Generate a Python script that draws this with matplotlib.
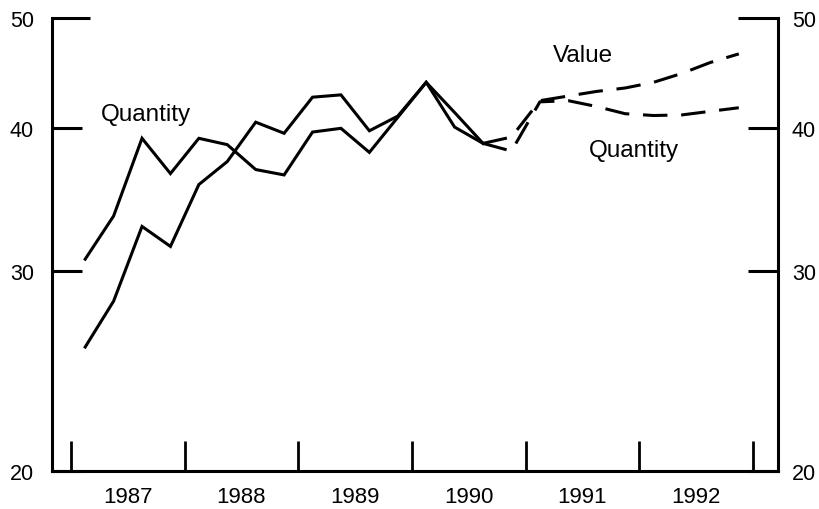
import matplotlib.pyplot as plt
from matplotlib.ticker import FixedLocator, NullLocator, FixedFormatter

# quarterly series (log scale)
hist_quarters = ["1987Q1", "1987Q2", "1987Q3", "1987Q4",
                 "1988Q1", "1988Q2", "1988Q3", "1988Q4",
                 "1989Q1", "1989Q2", "1989Q3", "1989Q4",
                 "1990Q1", "1990Q2", "1990Q3"]
hist_quantity = [30.7, 33.5, 39.2, 36.5,
                 39.2, 38.7, 36.8, 36.4,
                 39.7, 40.0, 38.1, 40.9,
                 43.9, 40.1, 38.8]
hist_value = [25.7, 28.2, 32.8, 31.5,
              35.7, 37.4, 40.5, 39.6,
              42.6, 42.8, 39.8, 41.0,
              43.9, 41.3, 38.8]

fc_quarters = ["1990Q3", "1990Q4",
               "1991Q1", "1991Q2", "1991Q3", "1991Q4",
               "1992Q1", "1992Q2", "1992Q3", "1992Q4"]
fc_quantity = [38.8, 38.2, 42.2, 42.3, 41.8, 41.2, 41.05, 41.1, 41.4, 41.7]
fc_value = [38.8, 39.3, 42.3, 42.7, 43.1, 43.4, 43.9, 44.7, 45.7, 46.5]

years = [1987, 1988, 1989, 1990, 1991, 1992]
y_ticks = [20, 30, 40, 50]


def qpos(label):
    """Centre of a quarter on a fractional-year axis."""
    year, q = label.split("Q")
    return int(year) + (int(q) - 0.5) / 4.0


plt.rcParams["font.family"] = ["Liberation Sans", "DejaVu Sans"]

fig = plt.figure(figsize=(8.19, 5.10), dpi=100)
ax = fig.add_axes([52 / 819, 38 / 510, 726 / 819, 453 / 510])

lw = 2.2
hx = [qpos(q) for q in hist_quarters]
fx = [qpos(q) for q in fc_quarters]
ax.plot(hx, hist_quantity, color="black", lw=lw, solid_joinstyle="miter")
ax.plot(hx, hist_value, color="black", lw=lw, solid_joinstyle="miter")
for vals in (fc_quantity, fc_value):
    ln, = ax.plot(fx, vals, color="black", lw=lw, dashes=(8, 4.5))

ax.set_yscale("log")
ax.set_ylim(20, 50)
ax.set_xlim(1986.833, 1993.22)

# y axis, both sides
ax.yaxis.set_major_locator(FixedLocator(y_ticks))
ax.yaxis.set_major_formatter(FixedFormatter([str(v) for v in y_ticks]))
ax.yaxis.set_minor_locator(NullLocator())

ax2 = ax.twinx()
ax2.set_yscale("log")
ax2.set_ylim(20, 50)
ax2.yaxis.set_major_locator(FixedLocator(y_ticks))
ax2.yaxis.set_major_formatter(FixedFormatter([str(v) for v in y_ticks]))
ax2.yaxis.set_minor_locator(NullLocator())

for a in (ax, ax2):
    for s in a.spines.values():
        s.set_visible(False)
        s.set_linewidth(lw)
ax.spines["left"].set_visible(True)
ax.spines["bottom"].set_visible(True)
ax2.spines["right"].set_visible(True)

ax.tick_params(axis="y", which="major", direction="in", length=21.6, width=lw,
               pad=13, labelsize=15.5)
ax2.tick_params(axis="y", which="major", direction="in", length=21.6, width=lw,
                pad=10, labelsize=15.5)
ax.yaxis.get_major_ticks()[-1].tick1line.set_markersize(27.4)
ax2.yaxis.get_major_ticks()[-1].tick2line.set_markersize(28.8)

# x axis: year boundaries as inward ticks, labels centred in each year
ax.xaxis.set_major_locator(FixedLocator(years + [1993]))
ax.xaxis.set_major_formatter(FixedFormatter([""] * (len(years) + 1)))
ax.xaxis.set_minor_locator(FixedLocator([y + 0.5 for y in years]))
ax.xaxis.set_minor_formatter(FixedFormatter([str(y) for y in years]))
ax.tick_params(axis="x", which="major", direction="in", length=21.6, width=2.0)
ax.tick_params(axis="x", which="minor", length=0, pad=11, labelsize=16)

ax.text(1987.66, 40.7, "Quantity", fontsize=17.5, ha="center", va="baseline")
ax.text(1991.50, 45.8, "Value", fontsize=17.5, ha="center", va="baseline")
ax.text(1991.95, 37.8, "Quantity", fontsize=17.5, ha="center", va="baseline")

fig.savefig("out.png", dpi=100)
